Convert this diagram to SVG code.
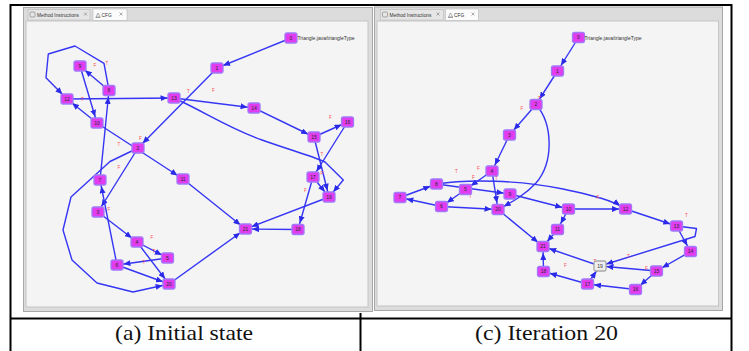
<svg xmlns="http://www.w3.org/2000/svg" width="749" height="351" viewBox="0 0 749 351">
<defs>
<style>
.tbl{stroke:#000;stroke-width:2;fill:none}
.cap{font-family:"Liberation Serif","Times New Roman",serif;font-size:22px;fill:#111}
.frame{fill:#dcdcdc;stroke:#a8a8a8;stroke-width:1}
.canvas{fill:#f4f4f4;stroke:#c4c4c4;stroke-width:1}
.tab{fill:#e6e6e6;stroke:#b8b8b8;stroke-width:0.6}
.tabsel{fill:#fbfbfb;stroke:#b8b8b8;stroke-width:0.6}
.tabt{font-family:"Liberation Sans",Arial,sans-serif;font-size:4.8px;fill:#333}
.ico{fill:none;stroke:#777;stroke-width:0.6}
.e{fill:none;stroke:#3535f5;stroke-width:1.4;stroke-linejoin:round;marker-end:url(#ah)}
.n rect{fill:#e23cf0;stroke:#a07af8;stroke-width:1.3}
.n text{font-family:"Liberation Sans",Arial,sans-serif;font-size:5px;fill:#2a2a2a;text-anchor:middle}
.nw rect{fill:#eeeeee;stroke:#a8a8a8;stroke-width:1.3}
.nw text{font-family:"Liberation Sans",Arial,sans-serif;font-size:5px;fill:#333;text-anchor:middle}
.lb{font-family:"Liberation Sans",Arial,sans-serif;font-size:4.5px;fill:#ff4a4a}
.mt{font-family:"Liberation Sans",Arial,sans-serif;font-size:5px;fill:#333}
</style>
<marker id="ah" markerUnits="userSpaceOnUse" markerWidth="7" markerHeight="6" refX="13.5" refY="3" orient="auto">
<path d="M0,0 L7,3 L0,6 z" fill="#2a2ae8"/>
</marker>
</defs>

<!-- table -->
<g id="table">
<line class="tbl" x1="10.5" y1="4" x2="10.5" y2="351"/>
<line class="tbl" x1="10" y1="5" x2="732" y2="5"/>
<line class="tbl" x1="731.5" y1="4" x2="731.5" y2="351"/>
<line class="tbl" x1="10" y1="318.5" x2="732" y2="318.5"/>
<line class="tbl" x1="360.5" y1="313" x2="360.5" y2="351"/>
<text class="cap" x="115" y="340" textLength="138" lengthAdjust="spacingAndGlyphs">(a) Initial state</text>
<text class="cap" x="475" y="340" textLength="143" lengthAdjust="spacingAndGlyphs">(c) Iteration 20</text>
</g>

<!-- LEFT SCREENSHOT -->
<g id="left-window">
<rect class="frame" x="23.5" y="7.5" width="349" height="304"/>
<rect class="tab" x="28" y="9.5" width="62" height="10.5"/>
<rect class="ico" x="30" y="12" width="5" height="5" rx="1"/>
<text class="tabt" x="37" y="17">Method Instructions</text>
<path class="ico" d="M84,12.5 l3,3 M87,12.5 l-3,3"/>
<rect class="tabsel" x="93" y="9" width="34" height="11.5"/>
<path class="ico" d="M96,17 l2,-4 l2,4 z M95.5,17.5 h5"/>
<text class="tabt" x="101.5" y="16.5">CFG</text>
<path class="ico" d="M119.5,12.5 l3,3 M122.5,12.5 l-3,3"/>
<rect class="canvas" x="26" y="21" width="342" height="286"/>
</g>

<g id="left-connectors">
<path class="e" d="M291,38 L217,68"/>
<path class="e" d="M217,68 L138,148"/>
<path class="e" d="M138,148 L98,212"/>
<path class="e" d="M98,212 L137,242"/>
<path class="e" d="M137,242 L167.5,258"/>
<path class="e" d="M137,242 L169,284"/>
<path class="e" d="M167.5,258 L117,265"/>
<path class="e" d="M117,265 L169,284"/>
<path class="e" d="M117,265 L100,180"/>
<path class="e" d="M100,180 L109,90.5"/>
<path class="e" d="M109,90.5 L80,66"/>
<path class="e" d="M109,90.5 L104,63.3 L75,46 L48.3,54 L46,77.7 L67,99"/>
<path class="e" d="M80,66 L97,123"/>
<path class="e" d="M97,123 L67,99"/>
<path class="e" d="M97,123 L183,179"/>
<path class="e" d="M183,179 L245.5,229"/>
<path class="e" d="M67,99 L174,98"/>
<path class="e" d="M174,98 L254,108"/>
<path class="e" d="M174,98 C205,112 228,128 262,140 C290,150 312,156 325,162 L343.3,180 L329,197"/>
<path class="e" d="M254,108 L314,137"/>
<path class="e" d="M314,137 L347.5,122"/>
<path class="e" d="M314,137 L329,197"/>
<path class="e" d="M347.5,122 L313,177"/>
<path class="e" d="M313,177 L329,197"/>
<path class="e" d="M313,177 L298,229.5"/>
<path class="e" d="M298,229.5 L245.5,229"/>
<path class="e" d="M329,197 L245.5,229"/>
<path class="e" d="M169,284 L245.5,229"/>
<path class="e" d="M138,148 L110,161.5 L71,197 L63,230 L72,260 L97,283 L133,292 L169,284"/>
</g>

<g id="left-labels">
<text class="lb" x="93.5" y="67">F</text>
<text class="lb" x="105.5" y="65">T</text>
<text class="lb" x="81" y="100.5">T</text>
<text class="lb" x="187" y="92.5">T</text>
<text class="lb" x="212" y="92">F</text>
<text class="lb" x="329" y="119">F</text>
<text class="lb" x="139" y="140">F</text>
<text class="lb" x="117.5" y="145.5">T</text>
<text class="lb" x="117.5" y="169">F</text>
<text class="lb" x="320.5" y="156">T</text>
<text class="lb" x="320.5" y="175">F</text>
<text class="lb" x="304" y="192">F</text>
<text class="lb" x="107.5" y="211">F</text>
<text class="lb" x="150.5" y="239">F</text>
<text class="lb" x="152.5" y="252.5">T</text>
<text class="lb" x="142.5" y="263.5">T</text>
</g>

<g id="L-n0" class="n"><rect x="285" y="33" width="12" height="10" rx="2"/><text x="291" y="39.7">0</text></g>
<text class="mt" x="297.5" y="40">Triangle.java/triangleType</text>
<g id="L-n1" class="n"><rect x="211" y="63" width="12" height="10" rx="2"/><text x="217" y="69.7">1</text></g>
<g id="L-n2" class="n"><rect x="132" y="143" width="12" height="10" rx="2"/><text x="138" y="149.7">2</text></g>
<g id="L-n3" class="n"><rect x="92" y="207" width="12" height="10" rx="2"/><text x="98" y="213.7">3</text></g>
<g id="L-n4" class="n"><rect x="131" y="237" width="12" height="10" rx="2"/><text x="137" y="243.7">4</text></g>
<g id="L-n5" class="n"><rect x="161.5" y="253" width="12" height="10" rx="2"/><text x="167.5" y="259.7">5</text></g>
<g id="L-n6" class="n"><rect x="111" y="260" width="12" height="10" rx="2"/><text x="117" y="266.7">6</text></g>
<g id="L-n7" class="n"><rect x="94" y="175" width="12" height="10" rx="2"/><text x="100" y="181.7">7</text></g>
<g id="L-n8" class="n"><rect x="103" y="85.5" width="12" height="10" rx="2"/><text x="109" y="92.2">8</text></g>
<g id="L-n9" class="n"><rect x="74" y="61" width="12" height="10" rx="2"/><text x="80" y="67.7">9</text></g>
<g id="L-n10" class="n"><rect x="91" y="118" width="12" height="10" rx="2"/><text x="97" y="124.7">10</text></g>
<g id="L-n11" class="n"><rect x="177" y="174" width="12" height="10" rx="2"/><text x="183" y="180.7">11</text></g>
<g id="L-n12" class="n"><rect x="61" y="94" width="12" height="10" rx="2"/><text x="67" y="100.7">12</text></g>
<g id="L-n13" class="n"><rect x="168" y="93" width="12" height="10" rx="2"/><text x="174" y="99.7">13</text></g>
<g id="L-n14" class="n"><rect x="248" y="103" width="12" height="10" rx="2"/><text x="254" y="109.7">14</text></g>
<g id="L-n15" class="n"><rect x="308" y="132" width="12" height="10" rx="2"/><text x="314" y="138.7">15</text></g>
<g id="L-n16" class="n"><rect x="341.5" y="117" width="12" height="10" rx="2"/><text x="347.5" y="123.7">16</text></g>
<g id="L-n17" class="n"><rect x="307" y="172" width="12" height="10" rx="2"/><text x="313" y="178.7">17</text></g>
<g id="L-n18" class="n"><rect x="292" y="224.5" width="12" height="10" rx="2"/><text x="298" y="231.2">18</text></g>
<g id="L-n19" class="n"><rect x="323" y="192" width="12" height="10" rx="2"/><text x="329" y="198.7">19</text></g>
<g id="L-n20" class="n"><rect x="163" y="279" width="12" height="10" rx="2"/><text x="169" y="285.7">20</text></g>
<g id="L-n21" class="n"><rect x="239.5" y="224" width="12" height="10" rx="2"/><text x="245.5" y="230.7">21</text></g>

<!-- RIGHT SCREENSHOT -->
<g id="right-window">
<rect class="frame" x="374.5" y="7" width="348" height="303.5"/>
<rect class="tab" x="380.5" y="9.5" width="63" height="10.5"/>
<rect class="ico" x="382.5" y="12" width="5" height="5" rx="1"/>
<text class="tabt" x="389.5" y="17">Method Instructions</text>
<path class="ico" d="M436.5,12.5 l3,3 M439.5,12.5 l-3,3"/>
<rect class="tabsel" x="445.5" y="9" width="33" height="11.5"/>
<path class="ico" d="M448.5,17 l2,-4 l2,4 z M448,17.5 h5"/>
<text class="tabt" x="454" y="16.5">CFG</text>
<path class="ico" d="M471.5,12.5 l3,3 M474.5,12.5 l-3,3"/>
<rect class="canvas" x="377" y="21" width="341.5" height="285"/>
</g>

<g id="right-connectors">
<path class="e" d="M578.5,37.5 L557.5,71"/>
<path class="e" d="M557.5,71 L536,104.5"/>
<path class="e" d="M536,104.5 L509.5,135"/>
<path class="e" d="M536,104.5 C553,124 554,162 536,183 C524,196 510,203 498,209.5"/>
<path class="e" d="M509.5,135 L492,171"/>
<path class="e" d="M492,171 L465.5,189.5"/>
<path class="e" d="M492,171 L498,209.5"/>
<path class="e" d="M465.5,189.5 L441.5,206.5"/>
<path class="e" d="M441.5,206.5 L400,197.5"/>
<path class="e" d="M441.5,206.5 L498,209.5"/>
<path class="e" d="M400,197.5 L436.5,184"/>
<path class="e" d="M436.5,184 L510,194"/>
<path class="e" d="M436.5,184 C468,179 520,180 563,189 C595,196 612,200 625.5,209"/>
<path class="e" d="M510,194 L568.5,209"/>
<path class="e" d="M568.5,209 L557.5,229.5"/>
<path class="e" d="M568.5,209 L625.5,209"/>
<path class="e" d="M557.5,229.5 L543,246.5"/>
<path class="e" d="M498,209.5 L543,246.5"/>
<path class="e" d="M625.5,209 L676.5,226"/>
<path class="e" d="M676.5,226 L690.5,251.5"/>
<path class="e" d="M676.5,226 L696.5,228.5 L695,236.5 L600,266"/>
<path class="e" d="M690.5,251.5 L656.5,271"/>
<path class="e" d="M656.5,271 L635.5,289.5"/>
<path class="e" d="M656.5,271 L600,266"/>
<path class="e" d="M635.5,289.5 L587.5,284"/>
<path class="e" d="M587.5,284 L543.5,271.5"/>
<path class="e" d="M587.5,284 L600,266"/>
<path class="e" d="M543.5,271.5 L543,246.5"/>
<path class="e" d="M600,266 L543,246.5"/>
</g>

<g id="right-labels">
<text class="lb" x="520.5" y="109.5">F</text>
<text class="lb" x="538" y="99.5">T</text>
<text class="lb" x="455" y="173">T</text>
<text class="lb" x="477" y="170">F</text>
<text class="lb" x="472" y="179">F</text>
<text class="lb" x="495" y="179.5">T</text>
<text class="lb" x="469" y="198">T</text>
<text class="lb" x="596.5" y="198.5">F</text>
<text class="lb" x="685" y="217">T</text>
<text class="lb" x="564" y="266.5">F</text>
<text class="lb" x="627" y="257.5">T</text>
<text class="lb" x="645" y="270">F</text>
<text class="lb" x="593.5" y="263">T</text>
</g>

<g id="R-n0" class="n"><rect x="572.5" y="32.5" width="12" height="10" rx="2"/><text x="578.5" y="39.2">0</text></g>
<text class="mt" x="584.5" y="39.5">Triangle.java/triangleType</text>
<g id="R-n1" class="n"><rect x="551.5" y="66" width="12" height="10" rx="2"/><text x="557.5" y="72.7">1</text></g>
<g id="R-n2" class="n"><rect x="530" y="99.5" width="12" height="10" rx="2"/><text x="536" y="106.2">2</text></g>
<g id="R-n3" class="n"><rect x="503.5" y="130" width="12" height="10" rx="2"/><text x="509.5" y="136.7">3</text></g>
<g id="R-n4" class="n"><rect x="486" y="166" width="12" height="10" rx="2"/><text x="492" y="172.7">4</text></g>
<g id="R-n5" class="n"><rect x="459.5" y="184.5" width="12" height="10" rx="2"/><text x="465.5" y="191.2">5</text></g>
<g id="R-n6" class="n"><rect x="435.5" y="201.5" width="12" height="10" rx="2"/><text x="441.5" y="208.2">6</text></g>
<g id="R-n7" class="n"><rect x="394" y="192.5" width="12" height="10" rx="2"/><text x="400" y="199.2">7</text></g>
<g id="R-n8" class="n"><rect x="430.5" y="179" width="12" height="10" rx="2"/><text x="436.5" y="185.7">8</text></g>
<g id="R-n9" class="n"><rect x="504" y="189" width="12" height="10" rx="2"/><text x="510" y="195.7">9</text></g>
<g id="R-n10" class="n"><rect x="562.5" y="204" width="12" height="10" rx="2"/><text x="568.5" y="210.7">10</text></g>
<g id="R-n11" class="n"><rect x="551.5" y="224.5" width="12" height="10" rx="2"/><text x="557.5" y="231.2">11</text></g>
<g id="R-n12" class="n"><rect x="619.5" y="204" width="12" height="10" rx="2"/><text x="625.5" y="210.7">12</text></g>
<g id="R-n13" class="n"><rect x="670.5" y="221" width="12" height="10" rx="2"/><text x="676.5" y="227.7">13</text></g>
<g id="R-n14" class="n"><rect x="684.5" y="246.5" width="12" height="10" rx="2"/><text x="690.5" y="253.2">14</text></g>
<g id="R-n15" class="n"><rect x="650.5" y="266" width="12" height="10" rx="2"/><text x="656.5" y="272.7">15</text></g>
<g id="R-n16" class="n"><rect x="629.5" y="284.5" width="12" height="10" rx="2"/><text x="635.5" y="291.2">16</text></g>
<g id="R-n17" class="n"><rect x="581.5" y="279" width="12" height="10" rx="2"/><text x="587.5" y="285.7">17</text></g>
<g id="R-n18" class="n"><rect x="537.5" y="266.5" width="12" height="10" rx="2"/><text x="543.5" y="273.2">18</text></g>
<g id="R-n19" class="nw"><rect x="594" y="261" width="12" height="10" rx="2"/><text x="600" y="267.7">19</text></g>
<g id="R-n20" class="n"><rect x="492" y="204.5" width="12" height="10" rx="2"/><text x="498" y="211.2">20</text></g>
<g id="R-n21" class="n"><rect x="537" y="241.5" width="12" height="10" rx="2"/><text x="543" y="248.2">21</text></g>
</svg>
